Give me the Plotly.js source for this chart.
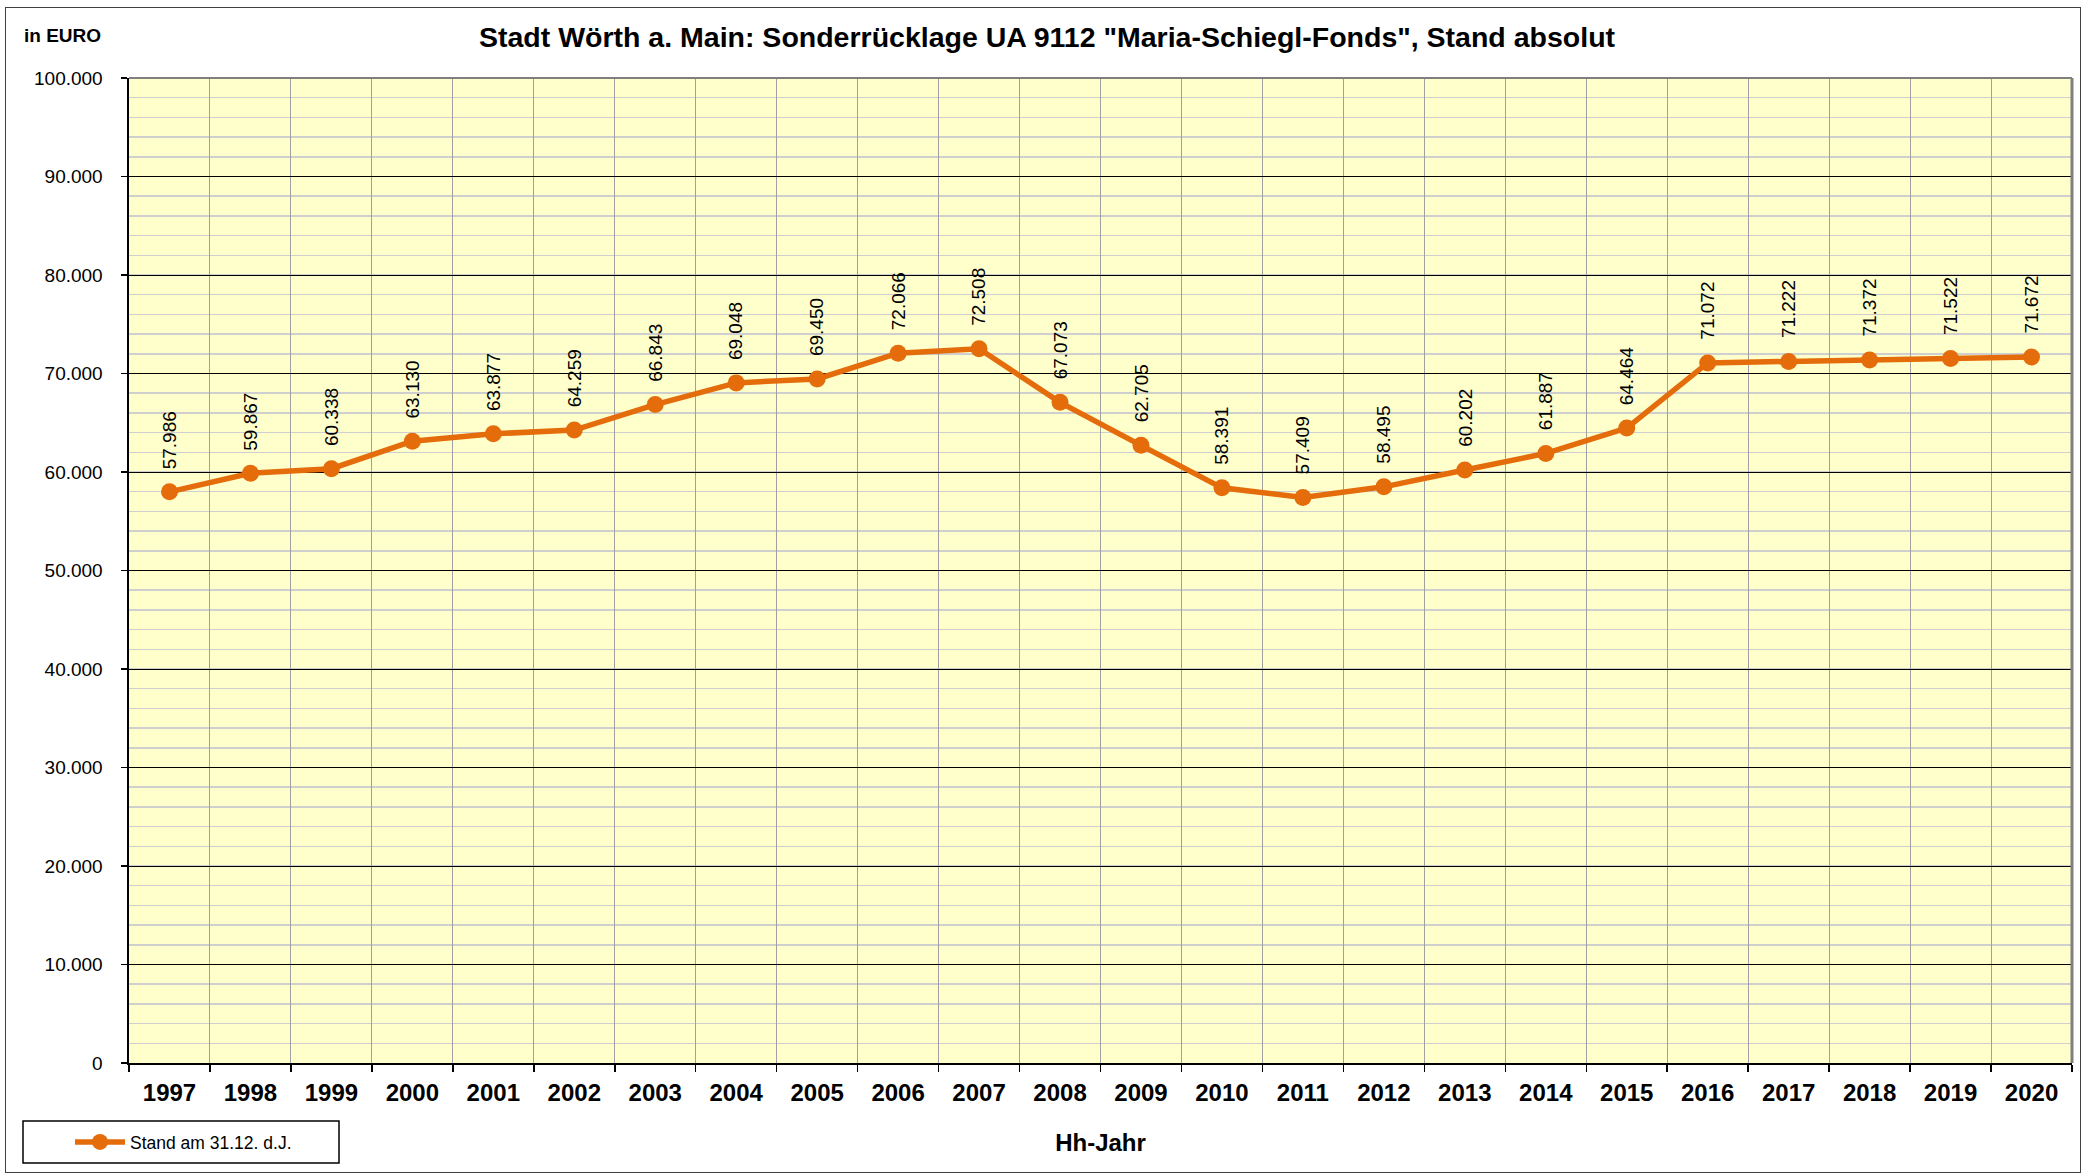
<!DOCTYPE html>
<html>
<head>
<meta charset="utf-8">
<script src="https://cdn.plot.ly/plotly-3.0.1.min.js"></script>
<style>
html,body{margin:0;padding:0;background:#fff;}
#chart{width:2088px;height:1176px;}
#frame{position:absolute;left:5px;top:7px;width:2074px;height:1164px;border:1.5px solid #404040;pointer-events:none;}
</style>
</head>
<body>
<div id="chart"></div>
<div id="frame"></div>
<script>
const years = ["1997","1998","1999","2000","2001","2002","2003","2004","2005","2006","2007","2008","2009","2010","2011","2012","2013","2014","2015","2016","2017","2018","2019","2020"];
const stand = [57986,59867,60338,63130,63877,64259,66843,69048,69450,72066,72508,67073,62705,58391,57409,58495,60202,61887,64464,71072,71222,71372,71522,71672];
const seriesName = "Stand am 31.12. d.J.";
const yTickVals = [0,10000,20000,30000,40000,50000,60000,70000,80000,90000,100000];

function fmt(v){
  const s = String(Math.round(v));
  return s.replace(/\B(?=(\d{3})+(?!\d))/g, ".");
}

const FONT = "Liberation Sans, Arial, sans-serif";
const ORANGE = "#E46C0A";

const trace = {
  x: years, y: stand, type: "scatter", mode: "lines+markers", name: seriesName,
  line: {color: ORANGE, width: 5.5},
  marker: {color: ORANGE, size: 17},
  showlegend: true, hoverinfo: "x+y"
};

const annotations = years.map((yr, i) => ({
  x: i, y: stand[i], xref: "x", yref: "y",
  text: fmt(stand[i]), textangle: -90, showarrow: false,
  xanchor: "center", yanchor: "bottom", yshift: 21,
  font: {family: FONT, size: 19, color: "#000"}
}));
annotations.push({
  xref: "paper", yref: "paper", x: (22-129)/1943, y: (1063-36)/985,
  xanchor: "left", yanchor: "middle", showarrow: false,
  text: "<b>in EURO</b>", font: {family: FONT, size: 19, color: "#000"}
});

const L = 129, R = 2072, T = 78, B = 1063;
const W = R - L, H = B - T;
const px = v => (v - L) / W;
const py = v => (B - v) / H;

const layout = {
  width: 2088, height: 1176,
  margin: {l: L, r: 2088 - R, t: T, b: 1176 - B, pad: 0},
  paper_bgcolor: "#ffffff", plot_bgcolor: "#FFFFCC",
  separators: ",.",
  font: {family: FONT, color: "#000"},
  title: {
    text: "<b>Stadt Wörth a. Main: Sonderrücklage UA 9112 \"Maria-Schiegl-Fonds\", Stand absolut</b>",
    font: {family: FONT, size: 28.5, color: "#000"},
    xref: "container", yref: "container", x: 1047/2088, y: 1 - 37/1176,
    xanchor: "center", yanchor: "middle"
  },
  xaxis: {
    type: "category", tickson: "boundaries",
    showgrid: true, gridcolor: "#a0a0a0", gridwidth: 1,
    showline: true, linecolor: "#000", linewidth: 2,
    ticks: "outside", ticklen: 7, tickcolor: "#000", tickwidth: 1.5,
    tickfont: {family: FONT, size: 24, color: "#000", weight: "bold"},
    ticklabelstandoff: 7,
    title: {text: "<b>Hh-Jahr</b>", font: {family: FONT, size: 24, color: "#000"}, standoff: 29},
    range: [-0.5, 23.5], fixedrange: true, zeroline: false
  },
  yaxis: {
    range: [0, 100000], tickvals: yTickVals, tickformat: ",d",
    showgrid: true, gridcolor: "#000", gridwidth: 1,
    minor: {dtick: 2000, showgrid: true, gridcolor: "#cfcfcf", gridwidth: 1.5},
    showline: true, linecolor: "#000", linewidth: 2.5,
    ticks: "outside", ticklen: 6, tickcolor: "#000", tickwidth: 1.5,
    tickfont: {family: FONT, size: 19, color: "#000"},
    ticklabelstandoff: 14, zeroline: false, fixedrange: true
  },
  showlegend: true,
  legend: {
    x: px(70), y: py(1142), xanchor: "left", yanchor: "middle",
    bgcolor: "rgba(0,0,0,0)", borderwidth: 0,
    font: {family: FONT, size: 17.5, color: "#000"},
    itemwidth: 50, tracegroupgap: 0
  },
  shapes: [
    {type: "line", xref: "paper", yref: "paper", x0: 0, x1: 1, y0: 1, y1: 1, line: {color: "#808080", width: 2}},
    {type: "line", xref: "paper", yref: "paper", x0: 1, x1: 1, y0: 0, y1: 1, line: {color: "#808080", width: 3}},
    {type: "rect", xref: "paper", yref: "paper", x0: px(23), x1: px(339), y0: py(1163), y1: py(1121), line: {color: "#000", width: 1.5}, fillcolor: "rgba(0,0,0,0)"}
  ],
  annotations: annotations
};

Plotly.newPlot("chart", [trace], layout, {displayModeBar: false, staticPlot: true});
</script>
</body>
</html>
